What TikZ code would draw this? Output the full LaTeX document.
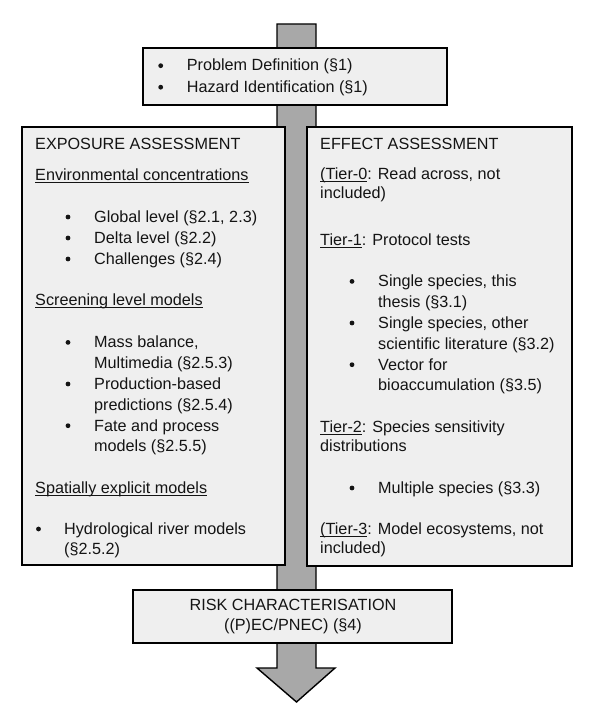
\documentclass[tikz,border=0pt]{standalone}
\usepackage{fontspec}
\setmainfont{Liberation Sans}
\definecolor{boxgray}{HTML}{EFEFEF}
\definecolor{shaftgray}{HTML}{A8A8A8}
\definecolor{textcol}{HTML}{141414}
\newcommand\myul[1]{\setbox0\hbox{#1}\rlap{\rule[-2.3pt]{\wd0}{0.9pt}}\box0}
\begin{document}
\begin{tikzpicture}[x=1pt,y=-1pt,
  box/.style={draw=black, line width=1.4pt, fill=boxgray, inner sep=0pt},
  txt/.style={anchor=base west, inner sep=0pt, font=\fontsize{16.2}{20}\selectfont, text=textcol},
  ctxt/.style={anchor=base, inner sep=0pt, font=\fontsize{16.2}{20}\selectfont, text=textcol},
  bul/.style={circle, fill=textcol, inner sep=0pt, minimum size=4.8pt, yshift=5.3pt}]
\useasboundingbox (0,0) rectangle (590,703);
\fill[white] (0,0) rectangle (590,703);
% big arrow behind everything
\draw[line width=1.4pt, fill=shaftgray, line join=miter]
  (277,24) -- (316,24) -- (316,668) -- (335,668) -- (296.5,702) -- (257,668) -- (277,668) -- cycle;
% boxes
\node[box, minimum width=304pt, minimum height=57pt] (top) at (295,76.5) {};
\node[box, minimum width=263pt, minimum height=438pt] (expo) at (153.5,346) {};
\node[box, minimum width=265pt, minimum height=439pt] (eff) at (439.5,346.5) {};
\node[box, minimum width=319pt, minimum height=53pt] (risk) at (292.5,616.5) {};
% top box text
\node[bul] (tb1) at (160.7,71) {};
\node[txt] (tt1) at (186.7,71) {Problem Definition (§1)};
\node[bul] (tb2) at (160.7,92.5) {};
\node[txt] (tt2) at (186.7,92.5) {Hazard Identification (§1)};
% exposure
\node[txt] (eh) at (35,149.3) {EXPOSURE ASSESSMENT};
\node[txt] (e1) at (35,181) {\myul{Environmental concentrations}};
\node[bul] (eb1) at (68,222.3) {};
\node[txt] (e2) at (94,222.3) {Global level (§2.1, 2.3)};
\node[bul] (eb2) at (68,243.3) {};
\node[txt] (e3) at (94,243.3) {Delta level (§2.2)};
\node[bul] (eb3) at (68,264.3) {};
\node[txt] (e4) at (94,264.3) {Challenges (§2.4)};
\node[txt] (e5) at (35,305.7) {\myul{Screening level models}};
\node[bul] (eb4) at (68,347.7) {};
\node[txt] (e6) at (94,347.7) {Mass balance,};
\node[txt] (e7) at (94,368.3) {Multimedia (§2.5.3)};
\node[bul] (eb5) at (68,389.3) {};
\node[txt] (e8) at (94,389.3) {Production-based};
\node[txt] (e9) at (94,410) {predictions (§2.5.4)};
\node[bul] (eb6) at (68,431) {};
\node[txt] (e10) at (94,431) {Fate and process};
\node[txt] (e11) at (94,451.7) {models (§2.5.5)};
\node[txt] (e12) at (35,493.3) {\myul{Spatially explicit models}};
\node[bul] (eb7) at (38.5,534.3) {};
\node[txt] (e13) at (64,534.3) {Hydrological river models};
\node[txt] (e14) at (64,554.3) {(§2.5.2)};
% effect
\node[txt] (fh) at (320,149.3) {EFFECT ASSESSMENT};
\node[txt] (f1) at (320,180) {\myul{(Tier-0}: Read across, not};
\node[txt] (f2) at (320,199) {included)};
\node[txt] (f3) at (320,245.5) {\myul{Tier-1}: Protocol tests};
\node[bul] (fb1) at (352,286.7) {};
\node[txt] (f4) at (378,286.7) {Single species, this};
\node[txt] (f5) at (378,307.3) {thesis (§3.1)};
\node[bul] (fb2) at (352,328.3) {};
\node[txt] (f6) at (378,328.3) {Single species, other};
\node[txt] (f7) at (378,349) {scientific literature (§3.2)};
\node[bul] (fb3) at (352,370) {};
\node[txt] (f8) at (378,370) {Vector for};
\node[txt] (f9) at (378,390.7) {bioaccumulation (§3.5)};
\node[txt] (f10) at (320,432.3) {\myul{Tier-2}: Species sensitivity};
\node[txt] (f11) at (320,451.7) {distributions};
\node[bul] (fb4) at (352,493.3) {};
\node[txt] (f12) at (378,493.3) {Multiple species (§3.3)};
\node[txt] (f13) at (320,534.3) {\myul{(Tier-3}: Model ecosystems, not};
\node[txt] (f14) at (320,553.3) {included)};
% risk
\node[ctxt] (r1) at (293,610) {RISK CHARACTERISATION};
\node[ctxt] (r2) at (293,630.7) {((P)EC/PNEC) (§4)};
\end{tikzpicture}
\end{document}
